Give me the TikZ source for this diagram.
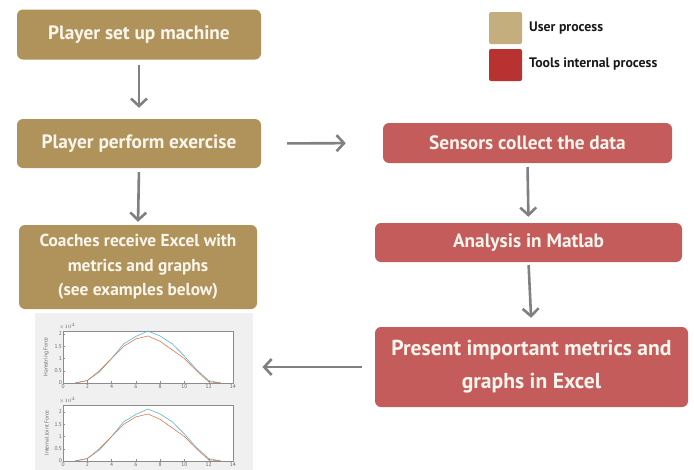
\documentclass[tikz,border=0pt]{standalone}
\usepackage{fontspec}
\setmainfont{PT Sans}
\usetikzlibrary{arrows.meta}
\definecolor{gold}{RGB}{176,147,90}
\definecolor{goldlight}{RGB}{196,174,126}
\definecolor{redbox}{RGB}{197,92,92}
\definecolor{reddark}{RGB}{184,50,50}
\definecolor{arrowgray}{RGB}{128,128,128}
\definecolor{figbg}{RGB}{240,240,240}
\definecolor{mblue}{RGB}{90,180,210}
\definecolor{morange}{RGB}{225,120,80}
\definecolor{boxtext}{RGB}{250,246,238}
\tikzset{
  box/.style={rounded corners=6pt, text=boxtext, font=\bfseries\fontsize{19.3}{24}\selectfont, align=center, inner sep=0pt},
  userbox/.style={box, fill=gold},
  toolbox/.style={box, fill=redbox},
  flow/.style={draw=arrowgray, line width=2.6pt, -{Straight Barb[length=7.5pt,width=16pt,line width=2.6pt]}},
  legsq/.style={rounded corners=2pt, minimum width=33pt, minimum height=32pt, inner sep=0pt},
  legtxt/.style={anchor=west, font=\bfseries\fontsize{13.8}{16}\selectfont, text=black!90, inner sep=0pt},
  tick/.style={font=\fontsize{5.5}{6}\selectfont, text=black!60, inner sep=1pt},
}
\begin{document}
\begin{tikzpicture}[x=1pt,y=-1pt]
\useasboundingbox (0,0) rectangle (694,469);
% boxes
\node[userbox, minimum width=244pt, minimum height=50pt] (b1) at (139,34.5) {Player set up machine};
\node[userbox, minimum width=244pt, minimum height=49pt] (b2) at (139,143.5) {Player perform exercise};
\node[userbox, minimum width=238pt, minimum height=84pt, font=\bfseries\fontsize{17.3}{24.5}\selectfont] (b3) at (138,267) {Coaches receive Excel with\\metrics and graphs\\(see examples below)};
\node[toolbox, minimum width=289pt, minimum height=40pt] (r1) at (527.5,143) {Sensors collect the data};
\node[toolbox, minimum width=307pt, minimum height=39pt] (r2) at (528.5,242.5) {Analysis in Matlab};
\node[toolbox, minimum width=313pt, minimum height=80pt, font=\bfseries\fontsize{21.6}{33}\selectfont] (r3) at (531.5,367) {Present important metrics and\\graphs in Excel};
% legend
\node[legsq, fill=goldlight] (l1) at (505.5,28) {};
\node[legsq, fill=reddark] (l2) at (505.5,65) {};
\node[legtxt] (lt1) at (529,28) {User process};
\node[legtxt] (lt2) at (529,64) {Tools internal process};
% graph figure
\node[fill=figbg, minimum width=218pt, minimum height=160pt, inner sep=0pt, anchor=north west] (graph) at (35,313) {};
% plots
\foreach \yz/\yt/\lab in {383/331/Hamstring Force, 461/405/Internal Joint Force}{
  \fill[white] (63,\yt) rectangle (233,\yz);
  \draw[black!45, line width=0.4pt] (63,\yt) rectangle (233,\yz);
  \foreach \k in {0,2,...,14}{
    \draw[black!45, line width=0.3pt] ({63+12.14*\k},\yz) -- ++(0,-2);
    \node[tick, anchor=north] at ({63+12.14*\k},\yz) {\k};
  }
  \foreach \v/\t in {0/0,0.5/0.5,1/1,1.5/1.5,2/2}{
    \draw[black!45, line width=0.3pt] (63,{\yz-24.5*\v}) -- ++(2,0);
    \node[tick, anchor=east] at (63,{\yz-24.5*\v}) {\t};
  }
  \node[tick, anchor=south west] at (58,\yt) {$\times10^4$};
  \node[tick, rotate=90, anchor=south] at (50,{(\yz+\yt)/2}) {\lab};
  \draw[mblue, line width=0.6pt] plot coordinates {
    ({63+12.14*1},{\yz-24.5*0}) ({63+12.14*2},{\yz-24.5*0.1}) ({63+12.14*3},{\yz-24.5*0.45})
    ({63+12.14*4},{\yz-24.5*1.0}) ({63+12.14*5},{\yz-24.5*1.6}) ({63+12.14*6},{\yz-24.5*1.9})
    ({63+12.14*7},{\yz-24.5*2.12}) ({63+12.14*8},{\yz-24.5*1.92}) ({63+12.14*9},{\yz-24.5*1.6})
    ({63+12.14*10},{\yz-24.5*1.1}) ({63+12.14*11},{\yz-24.5*0.55}) ({63+12.14*12},{\yz-24.5*0.1})
    ({63+12.14*13},{\yz-24.5*0})};
  \draw[morange, line width=0.6pt] plot coordinates {
    ({63+12.14*1},{\yz-24.5*0}) ({63+12.14*2},{\yz-24.5*0.1}) ({63+12.14*3},{\yz-24.5*0.5})
    ({63+12.14*4},{\yz-24.5*1.0}) ({63+12.14*5},{\yz-24.5*1.5}) ({63+12.14*6},{\yz-24.5*1.8})
    ({63+12.14*7},{\yz-24.5*1.92}) ({63+12.14*8},{\yz-24.5*1.7}) ({63+12.14*9},{\yz-24.5*1.35})
    ({63+12.14*10},{\yz-24.5*1.0}) ({63+12.14*11},{\yz-24.5*0.5}) ({63+12.14*12},{\yz-24.5*0.05})
    ({63+12.14*13},{\yz-24.5*0})};
}
% arrows
\draw[flow, shorten <=5pt, shorten >=11pt] (b1.south) -- (b2.north);
\draw[flow, shorten <=4pt, shorten >=3pt] (b2.south) -- (b3.north);
\draw[flow, shorten <=26pt, shorten >=37pt] (b2.east) -- (r1.west);
\draw[flow, shorten <=4pt, shorten >=6pt] (r1.south) -- (r2.north);
\draw[flow, shorten <=3pt, shorten >=9pt] (r2.south) -- (r3.north);
\draw[flow, shorten <=13pt, shorten >=9pt] (r3.west) -- (graph.east |- r3.west);
\end{tikzpicture}
\end{document}
